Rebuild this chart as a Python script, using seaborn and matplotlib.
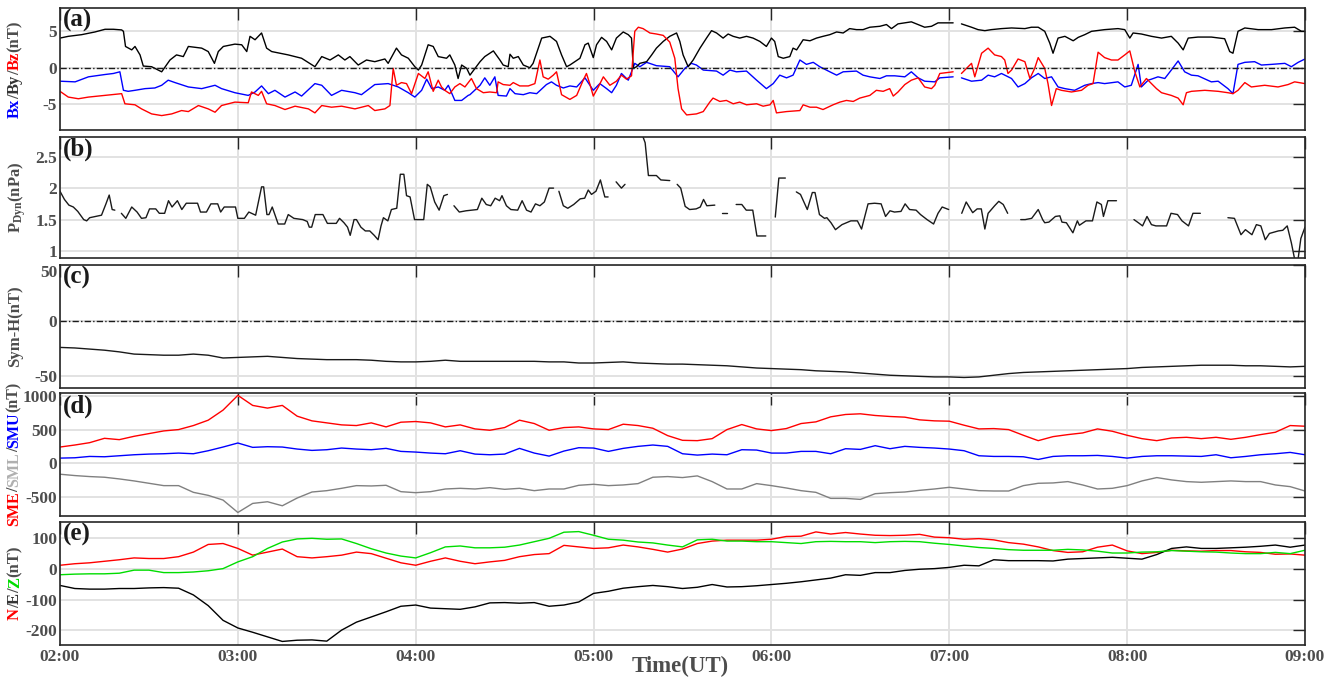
import numpy as np
import pandas as pd
import matplotlib
matplotlib.use('Agg')
import matplotlib.pyplot as plt
import seaborn as sns

nan = np.nan

# ---- data (times in minutes after 02:00 UT) ----
# IMF components: traced vertices, NaN marks the data gap just after 07:00
bx_min = [0, 5.1, 9.6, 15.2, 18.0, 20.2, 21.4, 23.0, 25.3, 28.7, 32.0, 34.3, 36.5, 38.8, 43.3,
          47.8, 52.3, 54.5, 59.0, 63.5, 65.8, 68.0, 70.3, 72.5, 75.9, 79.3, 81.5, 86.0, 88.3,
          91.6, 95.0, 99.5, 101.7, 106.2, 110.7, 114.1, 117.5, 119.7, 122.0, 123.7, 125.4,
          127.6, 129.8, 131.0, 133.2, 135.5, 137.7,
          138.3, 141.7, 143.3, 145.0, 146.7, 147.8, 150.6, 151.8, 153.5, 156.3, 158.5, 160.8,
          164.1, 165.8, 167.5, 169.8, 172.0, 174.3, 177.1, 179.9, 182.1, 184.4, 186.1, 187.7,
          189.4, 191.7, 193.9, 195.6, 197.9, 201.2, 205.7, 208.5, 210.8, 213.0, 214.7, 217.0,
          221.5, 223.7, 226.0, 228.2, 231.6, 235.0, 238.3, 240.6, 242.8, 245.1, 247.3, 249.6,
          251.8, 254.1, 256.3, 259.7, 262.0, 264.2, 268.7, 270.9, 273.2, 276.6, 278.8,
          281.6, 285.0, 287.2, 289.5, 291.7, 295.1, 296.8, 301.3, 302.7, 304.1, 307.5, 310.9,
          313.1, 315.3, 317.6, 321.0, 323.2, 325.5, 327.7, 330.0, 332.2, 334.5, 336.7, 339.0,
          342.3, 345.7, 348.0, 350.2, 352.4, 356.9, 359.2, 361.4, 363.7, 364.8, 367.1, 368.2,
          370.4, 372.7, 374.9, 377.2, 379.4, 381.7, 383.9, 388.4, 390.7, 394.0, 395.7, 397.4,
          399.7, 403.0, 405.3, 408.7, 413.2, 415.4, 417.7, 420.0]
bx = [-1.85, -1.94, -1.25, -0.93, -0.79, -0.56, -3.1, -3.24, -3.1, -2.87, -2.78, -2.41, -1.71,
      -2.04, -2.64, -2.87, -2.41, -2.87, -3.43, -3.8, -3.33, -2.5, -3.56, -3.1, -4.03, -3.33,
      -3.89, -2.18, -2.41, -3.8, -3.1, -3.43, -3.7, -2.31, -2.18, -2.64, -3.43, -4.03, -3.1,
      -1.57, -2.87, -2.64, -3.1, -2.41, -4.49, -4.49, -3.8,
      -3.7, -2.41, -1.39, -2.41, -1.25, -3.8, -3.89, -2.87, -3.56, -3.7, -3.43, -3.56, -2.31,
      -1.94, -2.41, -2.78, -2.5, -2.64, -1.39, -3.1, -2.18, -2.87, -3.43, -2.41, -0.79, -1.71,
      0.6, 0.14, 0.74, 0.28, 0.14, -1.25, -0.09, 0.6, 0.37, -0.32, -0.46, -1.02, -0.32, -0.56,
      -0.46, -1.71, -2.87, -2.18, -1.02, -1.39, -1.02, 1.06, 0.46, 0.74, 0.14, -0.56, -1.02,
      -0.56, -0.46, -1.02, -1.25, -1.48, -1.11,
      -1.11, -1.25, -0.56, -1.39, -1.85, -1.94, -1.39, -1.25, nan, -1.39, -1.85, -1.71, -1.02,
      -1.25, -0.79, -1.48, -2.64, -2.18, -1.39, -0.79, -1.48, -1.25, -2.64, -2.87, -3.1, -2.41,
      -2.18, -2.04, -2.18, -1.94, -2.64, -2.41, 0.46, -2.64, -1.71, -1.57, -1.25, -1.48, -0.32,
      0.93, -0.56, -1.02, -1.11, -1.94, -1.85, -2.87, -3.56, 0.46, 0.74, 0.83, 0.37, 0.46, 0.6,
      0.14, 0.74, 1.2]

by_min = [0.0, 2.8, 7.3, 11.8, 15.2, 18.0, 20.8, 21.4, 22.1, 24.2, 25.3, 27.0, 28.1, 30.9, 34.3,
          37.1, 39.3, 41.6, 43.3, 47.8, 50.0, 52.1, 53.4, 55.1, 59.0, 61.3, 63.0, 64.1, 65.8,
          68.0, 69.7, 71.4, 77.0, 81.5, 86.0, 88.3, 91.1, 93.9, 96.1, 97.8, 100.6, 103.4, 106.2,
          109.6, 110.7, 113.5, 115.2, 117.5, 119.7, 120.9, 122.0, 124.2, 125.9, 127.6, 130.4,
          131.5, 133.2, 134.3, 135.5, 137.2, 138.3,
          141.7, 143.3, 146.2, 148.4, 149.5, 151.2, 151.8, 152.9, 154.6, 156.3, 158.5, 159.6,
          162.5, 165.3, 167.5, 169.2, 170.9, 172.0, 175.4, 177.1, 178.2, 179.9, 181.0, 182.7,
          184.4, 186.1, 187.7, 190.0, 191.7, 192.8, 193.4, 194.5, 195.6, 197.9, 199.6, 201.2,
          203.5, 205.7, 208.0, 209.1, 210.2, 211.9, 213.6, 215.9, 218.1, 219.8, 221.5, 223.7,
          225.4, 227.1, 229.3, 231.6, 233.8, 236.1, 238.3, 240.0, 241.1, 242.3, 244.0, 246.2,
          247.3, 248.5, 250.7, 253.0, 255.2, 257.4, 259.7, 262.0, 264.2, 266.4, 268.7, 270.9,
          273.2, 276.6, 278.8,
          280.5, 282.7, 287.2, 289.5, 291.7, 294.0, 296.2, 301.3, 302.7, 304.1, 307.5, 309.7,
          312.0, 314.2, 317.6, 321.0, 325.5, 327.7, 330.0, 332.2, 333.9, 335.0, 336.7, 339.0,
          341.8, 343.5, 345.7, 348.0, 352.4, 356.9, 359.2, 360.9, 362.0, 364.8, 368.2, 371.6,
          374.9, 377.2, 378.9, 380.6, 383.9, 388.4, 392.9, 394.6, 395.7, 397.4, 399.7, 404.2,
          408.7, 413.2, 416.5, 418.8, 420.0]
by = [4.07, 4.31, 4.54, 4.91, 5.28, 5.28, 5.19, 5.0, 2.92, 2.45, 2.92, 1.76, 0.23, 0.14, -0.56,
      1.06, 1.76, 1.53, 2.92, 2.69, 2.22, 0.6, 2.22, 2.92, 3.24, 3.15, 2.22, 4.31, 3.84, 4.77,
      2.69, 2.22, 1.76, 1.3, 0.14, 1.53, 1.06, 1.76, 1.06, 1.53, 0.37, 1.06, 0.83, 1.2, 0.6,
      2.69, 1.76, 1.3, 0.14, -0.32, 0.37, 3.15, 2.92, 1.53, 1.3, 1.76, 0.37, -1.48, 0.37, -0.09,
      -1.02,
      0.83, 1.53, 2.31, 1.06, 0.37, 0.14, 1.85, 1.3, 1.53, 0.37, 0.0, 0.6, 4.07, 4.31, 3.61,
      1.76, 0.14, 0.37, 1.3, 3.15, 3.38, 1.39, 3.15, 4.17, 3.61, 2.45, 4.07, 4.91, 4.54, 4.07,
      -0.09, 0.14, 0.6, 0.83, 1.76, 2.69, 3.61, 4.31, 4.77, 3.61, 1.76, 0.14, 1.06, 2.69, 4.07,
      5.09, 4.77, 4.07, 4.63, 4.31, 4.07, 4.31, 4.07, 3.61, 2.92, 4.07, 3.61, 1.53, 1.3, 1.53,
      2.69, 2.45, 3.84, 3.7, 4.07, 4.31, 4.54, 4.91, 4.77, 5.37, 5.23, 5.23, 5.56, 5.69, 5.93,
      5.37, 6.02, 6.3, 5.93, 5.56, 5.69, 6.16, 6.16, nan, 6.02, 5.56, 5.23, 5.09, 5.23, 5.37,
      5.46, 5.37, 5.56, 5.56, 5.0, 3.38, 1.99, 4.07, 4.31, 3.7, 4.17, 4.54, 5.0, 5.23, 5.37,
      5.23, 4.07, 4.77, 4.63, 4.31, 4.07, 4.31, 3.38, 2.45, 4.07, 4.21, 4.21, 3.98, 2.22, 1.99,
      5.0, 5.46, 5.23, 5.23, 5.46, 5.56, 5.0, 5.0]

bz_min = [0, 2.8, 6.2, 9.6, 15.2, 20.8, 21.9, 25.3, 27.5, 30.9, 34.3, 37.7, 41.0, 43.3, 46.7,
          50.0, 52.3, 54.5, 59.0, 63.5, 64.6, 66.9, 68.0, 69.7, 72.5, 75.9, 79.3, 83.8, 86.0,
          88.3, 91.6, 95.0, 99.5, 104.0, 106.2, 109.6, 111.3, 112.4, 113.5, 115.2, 116.9, 118.6,
          120.9, 123.1, 124.2, 125.9, 127.6, 128.7, 129.8, 131.5, 133.2, 134.9, 136.6, 138.8,
          140.5, 142.8, 145.0, 147.3, 147.8, 149.5, 151.8, 152.9, 155.1, 158.0, 160.2, 161.9,
          163.0, 164.7, 166.4, 167.5, 169.2, 172.0, 174.3, 176.5, 177.6, 178.8, 179.9, 181.6,
          183.3, 185.5, 187.7, 189.4, 191.1, 192.8, 193.9, 195.1, 196.7, 199.0, 201.2, 203.5,
          205.7, 207.4, 208.5, 209.7, 211.4, 214.7, 217.0, 219.2, 220.3, 222.6, 224.8, 227.1,
          229.3, 231.6, 235.0, 237.2, 239.5, 240.6, 241.7, 245.1, 249.6, 250.7, 253.0, 255.2,
          257.4, 260.8, 263.1, 265.3, 267.6, 269.8, 273.2, 275.4, 277.7, 279.9,
          281.1, 282.7, 285.0, 287.2, 289.5, 291.7, 294.0, 295.1, 296.8, 301.3, 302.7, 304.1,
          307.5, 308.6, 310.9, 313.1, 315.3, 317.6, 318.7, 319.8, 321.0, 323.2, 325.5, 327.2,
          328.8, 330.0, 332.2, 333.3, 334.5, 336.1, 337.8, 341.2, 344.6, 346.8, 348.5, 350.2,
          352.4, 354.7, 356.9, 359.2, 360.9, 362.6, 364.3, 366.5, 368.2, 369.9, 371.6, 374.9,
          377.2, 378.9, 380.0, 381.7, 386.2, 390.7, 394.0, 395.7, 397.4, 399.7, 401.9, 406.4,
          410.9, 414.3, 416.5, 420.0]
bz = [-3.24, -4.03, -4.26, -4.03, -3.8, -3.56, -4.95, -5.09, -5.65, -6.34, -6.57, -6.34, -5.88,
      -6.02, -5.19, -5.65, -6.11, -5.19, -4.72, -4.81, -3.33, -3.8, -3.24, -4.95, -5.19, -5.74,
      -5.28, -5.65, -6.2, -5.19, -5.42, -5.28, -5.65, -5.19, -5.88, -5.65, -5.19, -0.09, -2.41,
      -2.04, -2.18, -3.56, -0.79, -1.48, -0.56, -3.24, -1.71, -2.64, -3.1, -3.56, -2.64, -2.18,
      -2.64, -1.48,
      -2.87, -3.43, -3.33, -3.43, -1.94, -2.31, -2.41, -2.04, -2.5, -2.5, -2.18, 1.06, -1.25,
      -1.57, -1.02, -0.56, -3.7, -4.35, -3.8, -1.71, -0.79, -2.31, -3.89, -2.64, -1.25, -2.41,
      -1.85, -1.02, -1.57, -1.11, 5.0, 5.56, 5.37, 4.77, 4.63, 4.44, 3.52, 1.3, -2.87, -5.65,
      -6.48, -6.34, -6.02, -4.72, -4.17, -4.63, -4.49, -4.95, -4.72, -5.09, -4.95, -5.28, -5.09,
      -4.49, -6.2, -6.02, -5.88, -5.09, -5.42, -5.42, -5.74, -5.09, -4.72, -4.49, -4.63, -4.17,
      -3.8, -3.1, -3.24, -2.87,
      -3.89, -3.33, -2.31, -1.71, -1.39, -2.64, -2.87, -2.41, -0.79, -0.56, nan, -0.79, 0.6,
      -1.25, 1.99, 2.69, 1.76, 1.53, 1.06, -0.79, -0.32, 1.2, 0.83, -1.48, -0.09, 1.39, -0.09,
      -2.18, -5.19, -2.87, -3.1, -3.33, -3.1, -2.41, -2.18, 2.13, 1.39, 1.06, 1.06, 1.76, 2.31,
      -0.56, -2.64, -1.48, -2.18, -2.87, -3.43, -3.8, -4.17, -5.09, -3.43, -3.24, -3.1, -3.24,
      -3.43, -3.56, -3.1, -2.04, -2.64, -2.41, -2.64, -2.31, -1.94, -2.18]

# dynamic pressure: traced vertices, NaN marks a data gap
pdyn_min = [0, 1.5, 3, 4.5, 6, 8, 9, 10, 12, 14, 15.5, 16.6, 17.6, 18.5, 19.6,
            20.7, 22.2, 24.2, 26.0, 27.5, 29.0, 30.2, 32.3, 33.5, 35.3, 36.6, 37.8, 39.6, 41.1,
            42.6, 46.4, 47.4, 49.4, 50.9, 53.2, 54.2, 55.4, 59.2, 60.0, 62.2, 63.7, 66.0, 68.0,
            68.7, 69.8, 70.5, 71.6, 73.6, 75.8, 77.0, 78.9, 81.9, 83.4, 84.1, 84.9, 86.1, 88.7,
            90.2, 93.2, 94.3, 95.8, 97.0, 97.9, 99.2, 100.0, 101.5, 103.0, 104.5, 106.0, 107.3,
            108.3, 109.1, 110.6, 111.8, 113.6, 114.8, 116.0, 116.9, 118.1, 119.6, 122.7, 123.9,
            124.9, 126.4, 127.9, 129.5, 130.7, 131.8,
            132.9, 134.7, 137.0, 140.8, 142.3, 143.8, 145.3, 146.8, 148.3, 149.1, 150.6, 152.1,
            154.4, 155.9, 157.4, 158.9, 160.4, 161.9, 163.4, 165.0, 166.5, 167.4,
            168.3, 169.8, 171.3, 173.3, 175.5, 177.0, 178.2, 179.3, 180.8, 182.3, 183.8, 184.9, 186.2,
            187.6, 189.4, 190.6, 192.5,
            194.4, 196.4, 197.4, 198.5, 201.2, 202.7, 205.7, 207.0,
            208.2, 209.4, 210.9, 212.4, 214.6, 216.0, 217.1, 218.2, 220.9, 222.2,
            223.4, 224.9, 226.5,
            228.1, 230.0, 231.5, 233.7, 235.1, 238.1, 239.7,
            241.3, 242.5, 244.7, 246.5,
            248.4, 249.8, 252.1, 253.8, 254.7, 256.2, 257.9, 258.7, 260.1, 261.6, 263.8, 266.8,
            269.0, 270.4, 272.6, 274.8, 277.0, 278.5, 280.0, 281.5, 283.7, 285.1, 286.6, 288.8,
            290.3, 292.5, 294.7, 296.2, 297.6, 299.8, 302.0,
            304.2, 305.7, 307.9, 309.4, 310.8, 312.0, 313.1, 315.3, 316.7, 318.2, 319.7, 322.0,
            324.1, 325.6, 327.8, 330.0, 331.5, 332.2, 333.6, 335.8, 337.3, 338.0, 339.5, 341.7,
            343.2, 343.9, 346.1, 348.3, 349.8, 351.3, 352.0, 353.5, 356.4, 359.0,
            362.3, 363.8, 365.2, 366.7, 368.2, 369.7, 373.3, 374.8, 377.0, 378.5, 380.7, 382.2,
            384.7, 389.0,
            394.0, 396.2, 398.4, 399.9, 402.1, 403.6, 405.1, 406.6, 408.0, 411.0, 412.5, 414.0,
            415.4, 416.6, 417.6, 418.6, 420.0]
pdyn = [1.95, 1.82, 1.73, 1.70, 1.63, 1.50, 1.48, 1.53, 1.55, 1.57, 1.75, 1.89, 1.66, 1.65, nan,
        1.60, 1.52, 1.70, 1.62, 1.52, 1.53, 1.67, 1.67, 1.60, 1.60, 1.80, 1.70, 1.80, 1.66,
        1.76, 1.76, 1.62, 1.62, 1.75, 1.75, 1.62, 1.70, 1.70, 1.52, 1.52, 1.62, 1.57, 2.02,
        2.02, 1.58, 1.58, 1.70, 1.43, 1.43, 1.58, 1.52, 1.50, 1.47, 1.38, 1.38, 1.58, 1.58,
        1.44, 1.44, 1.52, 1.45, 1.38, 1.25, 1.50, 1.50, 1.38, 1.32, 1.32, 1.25, 1.18,
        1.40, 1.53, 1.48, 1.66, 1.68, 2.22, 2.22, 1.88, 1.86, 1.50, 1.50, 2.06,
        2.02, 1.78, 1.65, 1.88, 1.90, nan,
        1.72, 1.62, 1.64, 1.66, 1.84, 1.74, 1.72, 1.84, 1.80, 1.88, 1.72, 1.66,
        1.65, 1.80, 1.65, 1.62, 1.75, 1.72, 1.78, 2.00, 2.00, nan,
        1.95, 1.72, 1.68, 1.74, 1.83, 1.84, 1.97, 1.90, 1.95, 2.13, 1.86, 1.86, nan,
        2.10, 2.00, 2.06, nan,
        2.90, 2.85, 2.72, 2.20, 2.20, 2.13, 2.12, nan,
        2.06, 2.00, 1.71, 1.66, 1.67, 1.70, 1.82, 1.72, 1.73, nan,
        1.60, 1.60, nan,
        1.74, 1.74, 1.65, 1.65, 1.24, 1.24, nan,
        1.54, 2.16, 2.16, nan,
        1.94, 1.90, 1.66, 1.93, 1.93, 1.58, 1.52, 1.53, 1.45, 1.34, 1.42, 1.48,
        1.48, 1.35, 1.75, 1.76, 1.75, 1.55, 1.64, 1.62, 1.63, 1.75, 1.66, 1.65,
        1.58, 1.50, 1.43, 1.60, 1.70, 1.66, nan,
        1.60, 1.78, 1.61, 1.67, 1.67, 1.35, 1.60, 1.72, 1.79, 1.74, 1.60, nan,
        1.50, 1.50, 1.52, 1.66, 1.50, 1.45, 1.46, 1.55, 1.56, 1.46, 1.45, 1.29,
        1.48, 1.41, 1.48, 1.48, 1.78, 1.74, 1.55, 1.80, 1.80, nan,
        1.50, 1.45, 1.40, 1.55, 1.42, 1.40, 1.40, 1.60, 1.58, 1.48, 1.40, 1.60,
        1.60, nan,
        1.53, 1.52, 1.26, 1.34, 1.26, 1.42, 1.40, 1.18, 1.28, 1.32, 1.33, 1.40,
        1.13, 0.85, 0.85, 1.20, 1.38]

# 5-min samples for the remaining panels
t5 = np.arange(0, 421, 5)

symh = [-24, -24.5, -25.5, -26.5, -28, -30, -30.5, -31, -31, -30, -31, -33.5, -33, -32.5,
        -32, -33, -34, -34.5, -35, -35, -35, -35.5, -36.5, -37, -37, -36.5, -35.5, -36.5,
        -36.5, -36.5, -36.5, -36.5, -36.5, -37, -37, -38, -38, -37.5, -37, -38, -38.5, -39,
        -39, -39.5, -40, -40.5, -41.5, -42.5, -43, -43.5, -44, -45, -45.5, -46, -47, -48,
        -49, -49.5, -50, -50.5, -50.5, -51, -50.5, -49, -47.5, -46.5, -46, -45.5, -45, -44.5,
        -44, -43.5, -43, -42, -41.5, -41, -40.5, -40, -40, -40, -40.5, -40.5, -41, -41.5, -41]

sme = [240, 270, 305, 370, 350, 400, 440, 480, 500, 560, 640, 790, 1010, 860, 820, 860, 700,
       630, 600, 570, 560, 600, 540, 610, 620, 600, 540, 570, 510, 490, 530, 640, 590, 490,
       530, 540, 510, 500, 580, 560, 520, 410, 340, 335,
       365, 500, 575, 510, 485, 515, 590, 615, 690, 725, 735, 710, 695, 685, 645, 630, 625,
       565, 510, 515, 500, 415, 335, 395, 425, 450, 510, 475, 415, 365, 335, 375, 385, 365,
       385, 355, 385, 425, 460, 560, 550]
sml = [-165, -185, -200, -210, -235, -265, -300, -335, -335, -435, -480, -550, -735, -600,
       -575, -635, -520, -430, -410, -375, -335, -340, -330, -425, -440, -425, -385, -375,
       -385, -365, -390, -375, -410, -385, -385, -330, -315, -335, -325, -305, -210, -200,
       -215, -190,
       -275, -385, -385, -305, -335, -370, -410, -435, -525, -525, -540, -455, -440, -430,
       -405, -385, -360, -385, -410, -415, -415, -335, -300, -295, -275, -325, -385, -375,
       -335, -265, -215, -250, -275, -285, -275, -265, -275, -275, -325, -350, -415]
smu = [75, 80, 100, 95, 110, 125, 135, 140, 150, 140, 185, 240, 300, 235, 245, 240, 210, 190,
       200, 225, 210, 200, 220, 175, 165, 150, 140, 185, 135, 125, 135, 220, 150, 105, 180,
       230, 225, 175, 220, 250, 270, 250, 140, 120,
       135, 125, 200, 195, 150, 150, 175, 175, 140, 215, 205, 260, 215, 250, 235, 225, 210,
       185, 110, 100, 100, 95, 55, 100, 110, 110, 115, 100, 75, 100, 110, 110, 105, 100, 125,
       80, 100, 125, 140, 160, 125]

gn = [12, 17, 20, 25, 30, 36, 34, 34, 40, 55, 80, 83, 67, 45, 55, 65, 40, 36, 40, 45, 55,
      50, 35, 20, 12, 25, 36, 25, 17, 23, 28, 40, 47, 50, 77, 72, 67, 69, 78, 72, 64, 55, 65, 83,
      91, 94, 94, 94, 97, 106, 107, 121, 114, 119, 114, 110, 109, 110, 113, 104, 102, 97, 99,
      95, 86, 81, 72, 60, 54, 56, 71, 78, 59, 50, 54, 61, 59, 58, 60, 60, 56, 54, 48, 49, 45]
ge = [-54, -64, -66, -66, -64, -64, -62, -61, -63, -85, -120, -168, -193, -207, -222, -237,
      -233, -232, -236, -200, -174, -157, -140, -122, -118, -128, -130, -132, -124, -111,
      -110, -112, -110, -122, -118, -108, -80, -73, -63, -58, -54, -58, -64, -60,
      -51, -59, -58, -55, -51, -47, -42, -36, -30, -19, -21, -12, -12, -5, -1, 1, 5, 12, 10,
      30, 27, 27, 27, 26, 32, 34, 36, 38, 35, 32, 47, 67, 72, 67, 67, 69, 71, 74, 78, 71, 78]
gz = [-19, -17, -16, -16, -14, -4, -4, -12, -12, -10, -6, 1, 23, 40, 67, 88, 98, 100, 97, 98,
      83, 66, 52, 42, 36, 53, 72, 75, 69, 69, 71, 78, 89, 100, 120, 122, 110, 97, 94, 88, 85,
      78, 72, 95,
      97, 91, 91, 89, 89, 86, 83, 89, 90, 89, 89, 86, 89, 90, 89, 84, 80, 75, 70, 67, 63, 61,
      61, 61, 64, 62, 58, 52, 52, 55, 56, 60, 58, 56, 55, 52, 50, 50, 54, 50, 61]

# ---- style ----
sns.set_theme(style="white")
plt.rcParams.update({
    'font.family': ['Liberation Serif', 'DejaVu Serif'],
    'font.weight': 'bold',
    'mathtext.fontset': 'custom',
    'mathtext.rm': 'Liberation Serif:bold',
    'mathtext.bf': 'Liberation Serif:bold',
    'mathtext.it': 'Liberation Serif:bold:italic',
})

GRAY = '#4d4d4d'
W, H = 1334, 681
fig = plt.figure(figsize=(W / 100, H / 100), dpi=100)

# panel boxes in pixels (top, bottom)
left, right = 60, 1305
boxes = [(8, 130), (136.5, 258), (265, 387.5), (393, 515.5), (521.5, 644.5)]
axes = []
for top, bot in boxes:
    axes.append(fig.add_axes([left / W, 1 - bot / H, (right - left) / W, (bot - top) / H]))


def seg_df(minutes, vals, name):
    v = np.array(vals, dtype=float)
    d = pd.DataFrame({'t': 2 + np.array(minutes) / 60, 'v': v, 'var': name,
                      'seg': np.cumsum(np.isnan(v))})
    return d.dropna()


def grid_df(cols):
    frames = [pd.DataFrame({'t': 2 + t5 / 60, 'v': vals, 'var': name}) for name, vals in cols]
    return pd.concat(frames, ignore_index=True)


lw = 1.0
dashdot = (0, (4.5, 1.6, 1, 1.6))

# (a) IMF
dfa = pd.concat([seg_df(bx_min, bx, 'Bx'), seg_df(by_min, by, 'By'), seg_df(bz_min, bz, 'Bz')],
                ignore_index=True)
dfa['unit'] = dfa['var'] + dfa['seg'].astype(str)
sns.lineplot(data=dfa, x='t', y='v', hue='var', units='unit',
             palette={'Bx': 'blue', 'By': 'black', 'Bz': 'red'},
             estimator=None, legend=False, lw=lw, ax=axes[0])
axes[0].axhline(0, color='k', lw=1, ls=dashdot)

# (b) Pdyn with gaps
dfb = seg_df(pdyn_min, pdyn, 'Pdyn')
sns.lineplot(data=dfb, x='t', y='v', units='seg', estimator=None, color='k', lw=lw, ax=axes[1])

# (c) Sym-H
dfc = pd.DataFrame({'t': 2 + t5 / 60, 'v': symh})
sns.lineplot(data=dfc, x='t', y='v', color='k', lw=lw, estimator=None, ax=axes[2])
axes[2].axhline(0, color='k', lw=1, ls=dashdot)

# (d) SuperMAG indices
dfd = grid_df([('SME', sme), ('SML', sml), ('SMU', smu)])
sns.lineplot(data=dfd, x='t', y='v', hue='var', palette={'SME': 'red', 'SML': '#808080', 'SMU': 'blue'},
             estimator=None, legend=False, lw=lw, ax=axes[3])

# (e) ground magnetometer
dfe = grid_df([('N', gn), ('E', ge), ('Z', gz)])
sns.lineplot(data=dfe, x='t', y='v', hue='var', palette={'N': 'red', 'E': 'black', 'Z': '#00dd00'},
             estimator=None, legend=False, lw=lw, ax=axes[4])

ylims = [(-8.55, 8.2), (0.89, 2.82), (-60, 50), (-780, 1045), (-247, 155)]
yticks = [[-5, 0, 5], [1, 1.5, 2, 2.5], [-50, 0, 50], [-500, 0, 500, 1000], [-200, -100, 0, 100]]
letters = ['(a)', '(b)', '(c)', '(d)', '(e)']

for i, ax in enumerate(axes):
    ax.set_xlim(2, 9)
    ax.set_ylim(*ylims[i])
    ax.set_xticks(range(2, 10))
    ax.set_yticks(yticks[i])
    ax.set_yticklabels([f'{v:g}' for v in yticks[i]])
    if i < 4:
        ax.set_xticklabels([])
    else:
        ax.set_xticklabels([f'{h:02d}:00' for h in range(2, 10)])
    ax.set_xlabel('')
    ax.set_ylabel('')
    ax.grid(True, color='#e2e2e2', lw=1.4)
    ax.set_axisbelow(True)
    ax.tick_params(direction='in', length=8.5, width=1, top=True, right=True,
                   color='#262626', labelcolor=GRAY, labelsize=12.5, pad=3)
    ax.tick_params(axis='y', labelsize=12.5, pad=2)
    for s in ax.spines.values():
        s.set_color('#262626')
        s.set_linewidth(1.2)
        s.set_visible(True)
    ax.text(0.002, 0.99, letters[i], transform=ax.transAxes, fontsize=18, fontweight='bold',
            va='top', ha='left', color='k')

# the top tick label of (c) sits just under the lowest one of (b)
axes[2].get_yticklabels()[-1].set_va('top')

fig.text(680 / W, 0.006, 'Time(UT)', ha='center', va='bottom', fontsize=16.5,
         fontweight='bold', color=GRAY)

# multi-coloured vertical labels
renderer = fig.canvas.get_renderer()


def stacked_label(ax, parts, x_px, size=12):
    texts = [fig.text(0, 0, s, color=c, rotation=90, fontsize=size, fontweight='bold',
                      ha='center', va='bottom') for s, c in parts]
    lens = [t.get_window_extent(renderer).height for t in texts]
    box = ax.get_position()
    y = (box.y0 + box.height / 2) * H - sum(lens) / 2
    for t, L in zip(texts, lens):
        t.set_position((x_px / W, y / H))
        y += L


stacked_label(axes[0], [('Bx', 'blue'), ('/', GRAY), ('By', '#333333'), ('/', GRAY),
                        ('Bz', 'red'), ('(nT)', GRAY)], 15)
stacked_label(axes[1], [(r'$\mathbf{P_{Dyn}}$(nPa)', GRAY)], 17)
stacked_label(axes[2], [('Sym-H(nT)', GRAY)], 15)
stacked_label(axes[3], [('SME', 'red'), ('/', GRAY), ('SML', '#b0b0b0'), ('/', GRAY),
                        ('SMU', 'blue'), ('(nT)', GRAY)], 14, size=11.5)
stacked_label(axes[4], [('N', 'red'), ('/', GRAY), ('E', '#333333'), ('/', GRAY),
                        ('Z', '#00dd00'), ('(nT)', GRAY)], 15)

fig.savefig('out.png', dpi=100)
